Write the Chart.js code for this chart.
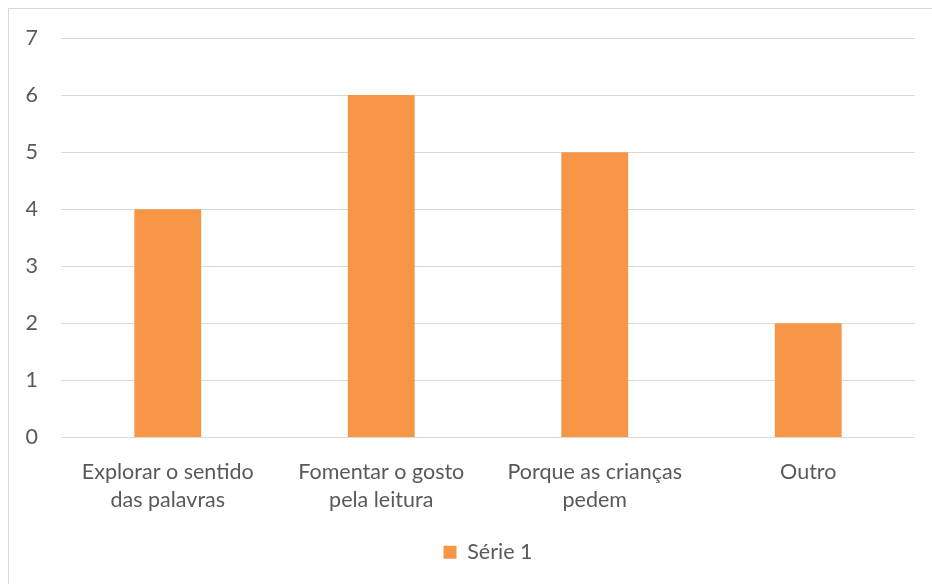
<!DOCTYPE html>
<html>
<head>
<meta charset="utf-8">
<script src="https://cdn.jsdelivr.net/npm/chart.js@4"></script>
<style>
  html, body { margin: 0; padding: 0; background: #fff; }
  #wrap { position: relative; width: 932px; height: 584px; overflow: hidden; }
  #frame { position: absolute; left: 8px; top: 8px; width: 1000px; height: 1000px;
           border-top: 1px solid #d9d9d9; border-left: 1px solid #d9d9d9; }
  #chart { position: absolute; left: 0; top: 0; }
</style>
</head>
<body>
<div id="wrap">
  <div id="frame"></div>
  <canvas id="chart" width="932" height="584"></canvas>
</div>
<script>
// data
const categories = [
  ['Explorar o sentido', 'das palavras'],
  ['Fomentar o gosto', 'pela leitura'],
  ['Porque as crianças', 'pedem'],
  ['Outro']
];
const serie1 = [4, 6, 5, 2];
const yTicks = [0, 1, 2, 3, 4, 5, 6, 7];

const textColor = '#595959';
const gridColor = '#d9d9d9';
const font = { family: 'Lato, "Open Sans", sans-serif', size: 21.5 };

// legend sits centred under the plot area, not the whole canvas
const legendShift = {
  id: 'legendShift',
  afterLayout(chart) {
    const lg = chart.legend;
    const dx = (chart.chartArea.left + chart.chartArea.right) / 2 - (lg.left + lg.right) / 2;
    lg.left += dx;
    lg.right += dx;
  }
};

new Chart(document.getElementById('chart'), {
  type: 'bar',
  data: {
    labels: categories,
    datasets: [{
      label: 'Série 1',
      data: serie1,
      backgroundColor: '#F79646',
      borderWidth: 0,
      categoryPercentage: 1,
      barPercentage: 0.313
    }]
  },
  options: {
    responsive: false,
    animation: false,
    layout: { padding: { left: 0, right: 17, top: 38, bottom: 11 } },
    scales: {
      x: {
        grid: { display: false, drawTicks: false },
        border: { display: false },
        ticks: { color: textColor, font: { ...font, lineHeight: 1.3 }, padding: 21, maxRotation: 0 },
        afterFit: s => { s.height = 94; }
      },
      y: {
        min: 0,
        max: 7,
        afterBuildTicks: s => { s.ticks = yTicks.map(v => ({ value: v })); },
        grid: { color: gridColor, lineWidth: 1, drawTicks: false },
        border: { display: false },
        ticks: { color: textColor, font: font, padding: 23 },
        afterFit: s => { s.width = 61; }
      }
    },
    plugins: {
      legend: {
        position: 'bottom',
        labels: { color: textColor, font: font, boxWidth: 13, boxHeight: 13, padding: 10 }
      },
      tooltip: { enabled: false }
    }
  },
  plugins: [legendShift]
});
</script>
</body>
</html>
